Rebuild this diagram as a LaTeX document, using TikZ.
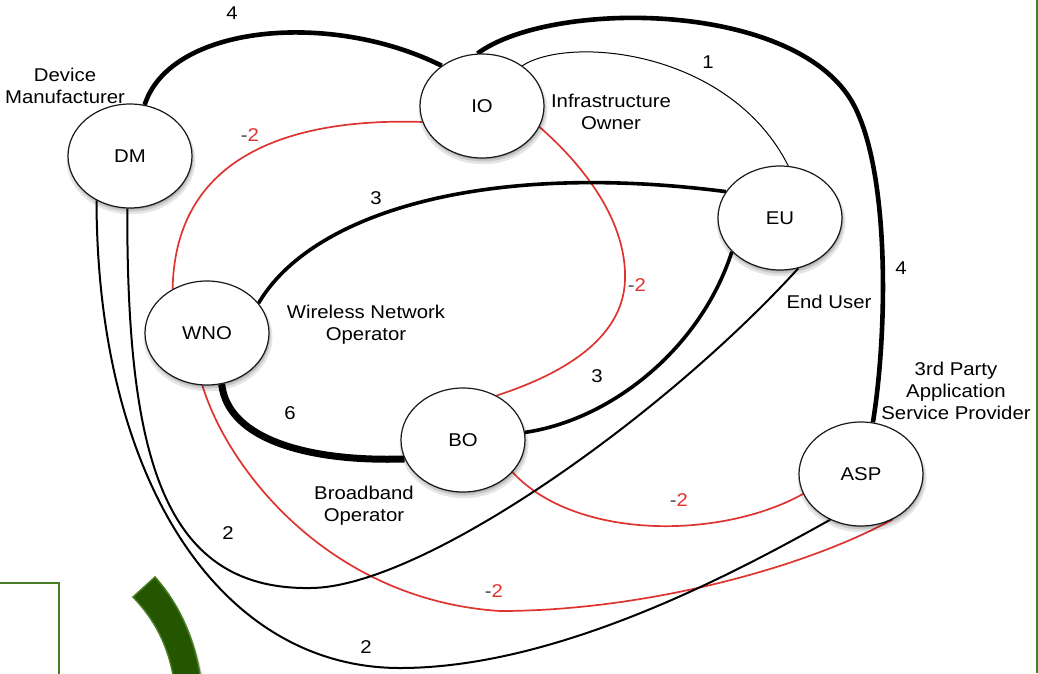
\documentclass[tikz,border=0pt]{standalone}
\usepackage{fontspec}
\setmainfont{Liberation Sans}[FakeStretch=1.1]
\usetikzlibrary{shapes.geometric,shadows}
\definecolor{redl}{RGB}{222,52,48}
\definecolor{grn}{RGB}{72,124,36}
\definecolor{grnfill}{RGB}{36,86,0}
\pgfdeclarelayer{bg}
\pgfsetlayers{bg,main}
\newcommand{\negtwo}{{\color{black!75}-}2}
\begin{document}
\begin{tikzpicture}[x=1pt,y=-1pt,
  font=\fontsize{18.5}{22}\selectfont,
  actor/.style={ellipse, draw=black!90, line width=1.2pt, fill=white,
    minimum width=124pt, minimum height=104pt, inner sep=0pt,
    general shadow={fill=black, opacity=0.10, shadow xshift=1pt, shadow yshift=-4pt, shadow scale=1.04},
    general shadow={fill=black, opacity=0.12, shadow xshift=1pt, shadow yshift=-3pt, shadow scale=1.01},
    general shadow={fill=black, opacity=0.15, shadow xshift=1pt, shadow yshift=-2pt, shadow scale=0.99}},
  lab/.style={align=center, inner sep=0pt},
  wt/.style={inner sep=0pt},
  rwt/.style={inner sep=0pt, text=redl},
  e1/.style={line width=1pt},
  e2/.style={line width=2pt},
  e3/.style={line width=3.6pt},
  e4/.style={line width=4.6pt},
  e6/.style={line width=7pt},
  er/.style={draw=redl, line width=1.7pt}]
\useasboundingbox (0,0) rectangle (1038,673);

% green decorations
\draw[grn, line width=2pt] (1036.5,0) -- (1036.5,673);
\draw[grn, line width=1.3pt] (-5,583) -- (59,583) -- (59,680);
\path[fill=black, opacity=0.15] (135,600) -- (157,580) .. controls (182,608) and (197,642) .. (203,680) -- (176,680) .. controls (170,648) and (157,622) .. (135,600) -- cycle;
\draw[grn, line width=1.5pt, fill=grnfill] (133,597) -- (155,577) .. controls (180,605) and (195,640) .. (201,680) -- (174,680) .. controls (168,645) and (155,620) .. (133,597) -- cycle;

% nodes
\node[actor] (dm)  at (130,156) {DM};
\node[actor] (io)  at (482,106) {IO};
\node[actor] (eu)  at (780,218) {EU};
\node[actor] (wno) at (207,333) {WNO};
\node[actor] (bo)  at (463,440) {BO};
\node[actor] (asp) at (861,474) {ASP};

% role labels
\node[lab] (ldm)  at (65,86)   {Device\\Manufacturer};
\node[lab] (lio)  at (611,112) {Infrastructure\\Owner};
\node[lab] (lwno) at (366,325) {Wireless Network\\Operator};
\node[lab] (leu)  at (829,302) {End User};
\node[lab] (lasp) at (956,391) {3rd Party\\Application\\Service Provider};
\node[lab] (lbo)  at (364,506) {Broadband\\Operator};

% edges
\begin{pgfonlayer}{bg}
\draw[e4] (dm.74) .. controls (170,25) and (330,10) .. (io.135);
\draw[e4] (io.95) .. controls (550,0) and (790,0) .. (851,100)
               .. controls (890,165) and (888,330) .. (asp.77);
\draw[e1] (io.45) .. controls (570,35) and (730,50) .. (eu.81);
\draw[er] (io.195) .. controls (300,118) and (175,150) .. (wno.128);
\draw[er] (io.340) .. controls (575,158) and (627,215) .. (625,280)
               .. controls (623,340) and (560,375) .. (bo.53);
\draw[e3] (wno.30) .. controls (310,215) and (480,160) .. (eu.154);
\draw[e6] (wno.286) .. controls (228,440) and (310,462) .. (bo.198);
\draw[e3] (bo.7) .. controls (610,420) and (700,350) .. (eu.215);
\draw[er] (bo.327) .. controls (575,540) and (720,540) .. (asp.199);
\draw[er] (wno.265) .. controls (228,470) and (330,600) .. (500,611)
               .. controls (640,611) and (800,570) .. (asp.305);
\draw[e2] (dm.267) .. controls (127,450) and (160,590) .. (310,588)
               .. controls (420,588) and (660,420) .. (eu.290);
\draw[e2] (dm.233) .. controls (97,480) and (220,668) .. (400,668)
               .. controls (560,668) and (740,570) .. (asp.236);
\end{pgfonlayer}

% edge weights
\node[wt]  (w1)  at (232,13)  {4};
\node[wt]  (w2)  at (708,62)  {1};
\node[rwt] (w3)  at (250,135) {\negtwo};
\node[wt]  (w4)  at (376,198) {3};
\node[rwt] (w5)  at (637,285) {\negtwo};
\node[wt]  (w6)  at (901,268) {4};
\node[wt]  (w7)  at (290,413) {6};
\node[wt]  (w8)  at (597,376) {3};
\node[rwt] (w9)  at (679,500) {\negtwo};
\node[wt]  (w10) at (228,533) {2};
\node[rwt] (w11) at (494,591) {\negtwo};
\node[wt]  (w12) at (366,647) {2};
\end{tikzpicture}
\end{document}
